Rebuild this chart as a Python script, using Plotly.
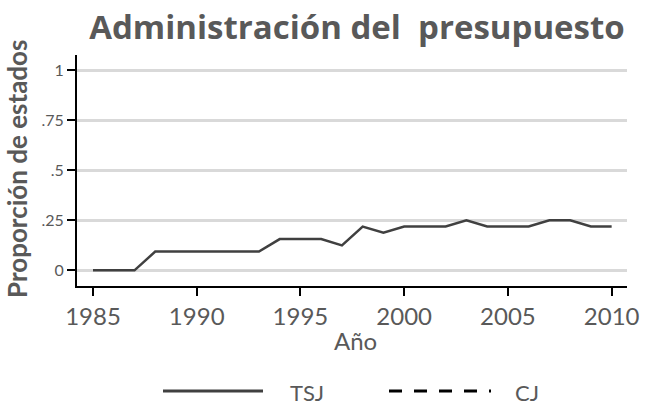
import plotly.graph_objects as go

years = list(range(1985, 2011))
tsj = [0, 0, 0, 3/32, 3/32, 3/32, 3/32, 3/32, 3/32, 5/32, 5/32, 5/32, 4/32,
       7/32, 6/32, 7/32, 7/32, 7/32, 8/32, 7/32, 7/32, 7/32, 8/32, 8/32, 7/32, 7/32]
cj = [None] * len(years)

x_ticks = [1985, 1990, 1995, 2000, 2005, 2010]
y_ticks = [0, 0.25, 0.5, 0.75, 1]
y_tick_labels = ["0", ".25", ".5", ".75", "1"]

FONT = "Lato"
TFONT = "Open Sans"
GREY = "#595959"

W, H = 646, 406
ML, MR, MT, MB = 77, 19, 55, 120

fig = go.Figure()
fig.add_trace(go.Scatter(x=years, y=tsj, mode="lines", name="TSJ",
                         line=dict(color="#404040", width=2.5), showlegend=False))
fig.add_trace(go.Scatter(x=years, y=cj, mode="lines", name="CJ",
                         line=dict(color="#000000", width=2.5, dash="13px,12px"), showlegend=False))

fig.update_layout(
    width=W, height=H,
    margin=dict(l=ML, r=MR, t=MT, b=MB, autoexpand=False),
    plot_bgcolor="white", paper_bgcolor="white",
    title=dict(text="Administración del\u00a0 presupuesto", x=357 / W, xanchor="center",
               y=1 - 27 / H, yanchor="middle",
               font=dict(family=TFONT, size=33, color=GREY, weight="bold")),
    xaxis=dict(range=[1984.23, 2010.74], tickvals=x_ticks, showgrid=False,
               showline=True, linecolor="black", linewidth=2,
               ticks="outside", ticklen=8, tickwidth=2, tickcolor="black",
               tickfont=dict(family=FONT, size=24, color=GREY),
               zeroline=False, automargin=False),
    yaxis=dict(range=[-0.078, 1.075], tickvals=y_ticks, ticktext=y_tick_labels,
               showgrid=True, gridcolor="#d9d9d9", gridwidth=3,
               showline=True, linecolor="black", linewidth=2,
               ticks="outside", ticklen=8, tickwidth=2, tickcolor="black",
               tickfont=dict(family=FONT, size=16, color=GREY),
               zeroline=False, automargin=False),
)

def px_to_paper_x(px):
    return (px - ML) / (W - ML - MR)

def px_to_paper_y(py):
    return (H - MB - py) / (H - MT - MB)

# axis titles
fig.add_annotation(text="Año", xref="paper", yref="paper", x=px_to_paper_x(355),
                   y=px_to_paper_y(340), xanchor="center", yanchor="middle", showarrow=False,
                   font=dict(family=FONT, size=24, color=GREY))
fig.add_annotation(text="<b>Proporción de estados</b>", xref="paper", yref="paper",
                   x=px_to_paper_x(17), y=px_to_paper_y(169), textangle=-90,
                   xanchor="center", yanchor="middle", showarrow=False,
                   font=dict(family=FONT, size=26, color=GREY))

# legend drawn in paper coordinates
ly = px_to_paper_y(391)
fig.add_shape(type="line", xref="paper", yref="paper",
              x0=px_to_paper_x(163), x1=px_to_paper_x(263), y0=ly, y1=ly,
              line=dict(color="#404040", width=3))
fig.add_shape(type="line", xref="paper", yref="paper",
              x0=px_to_paper_x(389), x1=px_to_paper_x(491), y0=ly, y1=ly,
              line=dict(color="#000000", width=3, dash="13px,12px"))
fig.add_annotation(text="TSJ", xref="paper", yref="paper", x=px_to_paper_x(288),
                   y=px_to_paper_y(392), xanchor="left", yanchor="middle", showarrow=False,
                   font=dict(family=FONT, size=22, color=GREY))
fig.add_annotation(text="CJ", xref="paper", yref="paper", x=px_to_paper_x(513),
                   y=px_to_paper_y(392), xanchor="left", yanchor="middle", showarrow=False,
                   font=dict(family=FONT, size=22, color=GREY))

fig.write_html("out.html", config={"displayModeBar": False},
               post_script="document.body.style.margin='0px';")
